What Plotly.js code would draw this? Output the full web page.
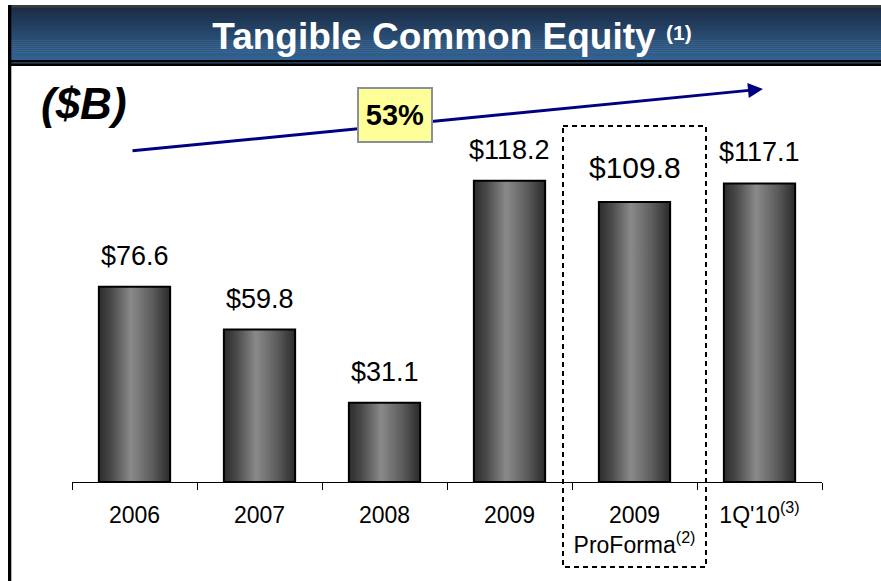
<!DOCTYPE html>
<html>
<head>
<meta charset="utf-8">
<script src="https://cdn.plot.ly/plotly-3.0.1.min.js"></script>
<style>
  html, body { margin: 0; padding: 0; background: #ffffff; }
  #chart { width: 881px; height: 581px; }
</style>
</head>
<body>
<div id="chart"></div>
<script>
// ---- data ----
const categories = ['2006', '2007', '2008', '2009', '2009 ProForma', "1Q'10"];
const values = [76.6, 59.8, 31.1, 118.2, 109.8, 117.1];
const tickLabels = ['2006', '2007', '2008', '2009', '2009<br>ProForma<sup>(2)</sup>', "1Q'10<sup>(3)</sup>"];
const valueLabels = ['$76.6', '$59.8', '$31.1', '$118.2', '$109.8', '$117.1'];
const growthLabel = '53%';
const titleText = 'Tangible Common Equity';
const titleNote = '(1)';
const unitLabel = '($B)';

// ---- layout geometry (pixels) ----
const W = 881, H = 581;
const L = 72, R = 59, T = 70, B = 99;
const PW = W - L - R, PH = H - T - B;
const px = x => (x - L) / PW;
const py = y => (H - B - y) / PH;
const FONT = 'Liberation Sans, Arial, Helvetica, sans-serif';

const shapes = [];
// title bar gradient strips
const top0 = 7, top1 = 60;
const c0 = [27, 45, 70], c1 = [50, 98, 146];
const n = 27;
for (let i = 0; i < n; i++) {
  const t = i / (n - 1);
  const c = c0.map((v, k) => Math.round(v + (c1[k] - v) * t));
  const y0 = top0 + (top1 - top0) * i / n;
  const y1 = top0 + (top1 - top0) * (i + 1) / n + 0.5;
  shapes.push({type: 'rect', xref: 'paper', yref: 'paper', x0: px(8), x1: px(W + 5),
    y0: py(y0), y1: py(y1), fillcolor: `rgb(${c.join(',')})`, line: {width: 0}, layer: 'below'});
}
// top border
shapes.push({type: 'rect', xref: 'paper', yref: 'paper', x0: px(8), x1: px(W + 5), y0: py(5), y1: py(7.5),
  fillcolor: '#3c3c3c', line: {width: 0}, layer: 'below'});
// double line under title bar
shapes.push({type: 'rect', xref: 'paper', yref: 'paper', x0: px(8), x1: px(W + 5), y0: py(60), y1: py(66),
  fillcolor: '#000000', line: {width: 0}, layer: 'below'});
shapes.push({type: 'rect', xref: 'paper', yref: 'paper', x0: px(8), x1: px(W + 5), y0: py(62.3), y1: py(63.5),
  fillcolor: '#34506e', line: {width: 0}, layer: 'below'});
// left border
shapes.push({type: 'rect', xref: 'paper', yref: 'paper', x0: px(8), x1: px(11.3), y0: py(5), y1: py(H + 5),
  fillcolor: '#000000', line: {width: 0}, layer: 'below'});
// dashed pro-forma box
shapes.push({type: 'rect', xref: 'paper', yref: 'paper', x0: px(563), x1: px(706), y0: py(126), y1: py(567),
  fillcolor: 'rgba(0,0,0,0)', line: {color: '#000000', width: 2, dash: '5px,4px'}, layer: 'above'});

const annotations = [];
// value labels (x given as category index so numeric-looking names are not misread)
categories.forEach((c, i) => {
  const big = c === '2009 ProForma';
  annotations.push({x: i, y: values[i], xref: 'x', yref: 'y', text: valueLabels[i], showarrow: false,
    yanchor: 'middle', yshift: big ? 35 : 31, font: {family: FONT, size: big ? 30 : 27, color: '#000000'}});
});
// unit label
annotations.push({xref: 'paper', yref: 'paper', x: px(84), y: py(104), text: '<b><i>' + unitLabel + '</i></b>',
  showarrow: false, xanchor: 'center', yanchor: 'middle', font: {family: FONT, size: 44, color: '#000000'}});
// growth arrow
annotations.push({xref: 'paper', yref: 'paper', x: px(763), y: py(89), text: '', showarrow: true,
  ax: 131 - 763, ay: 151 - 89, arrowcolor: '#000080', arrowwidth: 3, arrowhead: 2, arrowsize: 1});
// growth box
annotations.push({xref: 'paper', yref: 'paper', x: px(395), y: py(115), text: '<b>' + growthLabel + '</b>',
  showarrow: false, xanchor: 'center', yanchor: 'middle', bgcolor: '#ffff99', bordercolor: '#8a8f99',
  borderwidth: 2, borderpad: 0, width: 72, height: 52, font: {family: FONT, size: 29, color: '#000000'}});
// title note
annotations.push({xref: 'paper', yref: 'paper', x: px(679), y: py(32), text: '<b>' + titleNote + '</b>',
  showarrow: false, xanchor: 'center', yanchor: 'middle', font: {family: FONT, size: 21, color: '#ffffff'}});

const trace = {
  type: 'bar', x: categories, y: values,
  marker: {color: '#5a5a5a', line: {color: '#000000', width: 2}},
  hoverinfo: 'none'
};

const layout = {
  width: W, height: H,
  margin: {l: L, r: R, t: T, b: B, pad: 0},
  paper_bgcolor: '#ffffff', plot_bgcolor: '#ffffff',
  showlegend: false,
  bargap: 0.43,
  title: {text: '<b>' + titleText + '</b>', x: 434 / W, xref: 'container', xanchor: 'center',
    y: 1 - 36 / H, yref: 'container', yanchor: 'middle',
    font: {family: FONT, size: 37, color: '#ffffff'}},
  xaxis: {
    type: 'category', categoryorder: 'array', categoryarray: categories,
    tickmode: 'array', tickvals: categories, ticktext: tickLabels,
    range: [-0.5, categories.length - 0.5],
    tickangle: 0, automargin: false,
    showline: true, linecolor: '#000000', linewidth: 1,
    ticks: 'outside', tickson: 'boundaries', ticklen: 7, tickcolor: '#000000', tickwidth: 1,
    ticklabelstandoff: 12,
    showgrid: false, zeroline: false,
    tickfont: {family: FONT, size: 23, color: '#000000'}
  },
  yaxis: {range: [0, 161.6], visible: false, showgrid: false, zeroline: false, fixedrange: true},
  shapes: shapes,
  annotations: annotations
};

const gd = document.getElementById('chart');
Plotly.newPlot(gd, [trace], layout, {displayModeBar: false, staticPlot: true}).then(() => {
  const svg = gd.querySelector('svg.main-svg');
  const NS = 'http://www.w3.org/2000/svg';
  let defs = svg.querySelector('defs');
  if (!defs) { defs = document.createElementNS(NS, 'defs'); svg.insertBefore(defs, svg.firstChild); }
  const g = document.createElementNS(NS, 'linearGradient');
  g.setAttribute('id', 'barGrad');
  g.setAttribute('x1', '0'); g.setAttribute('x2', '1'); g.setAttribute('y1', '0'); g.setAttribute('y2', '0');
  [[0, '#2c2c2c'], [0.18, '#4a4a4a'], [0.45, '#8a8a8a'], [0.75, '#5c5c5c'], [1, '#2a2a2a']].forEach(([o, c]) => {
    const s = document.createElementNS(NS, 'stop');
    s.setAttribute('offset', o); s.setAttribute('stop-color', c);
    g.appendChild(s);
  });
  defs.appendChild(g);
  gd.querySelectorAll('.barlayer .point path').forEach(p => { p.style.fill = 'url(#barGrad)'; });
});
</script>
</body>
</html>
